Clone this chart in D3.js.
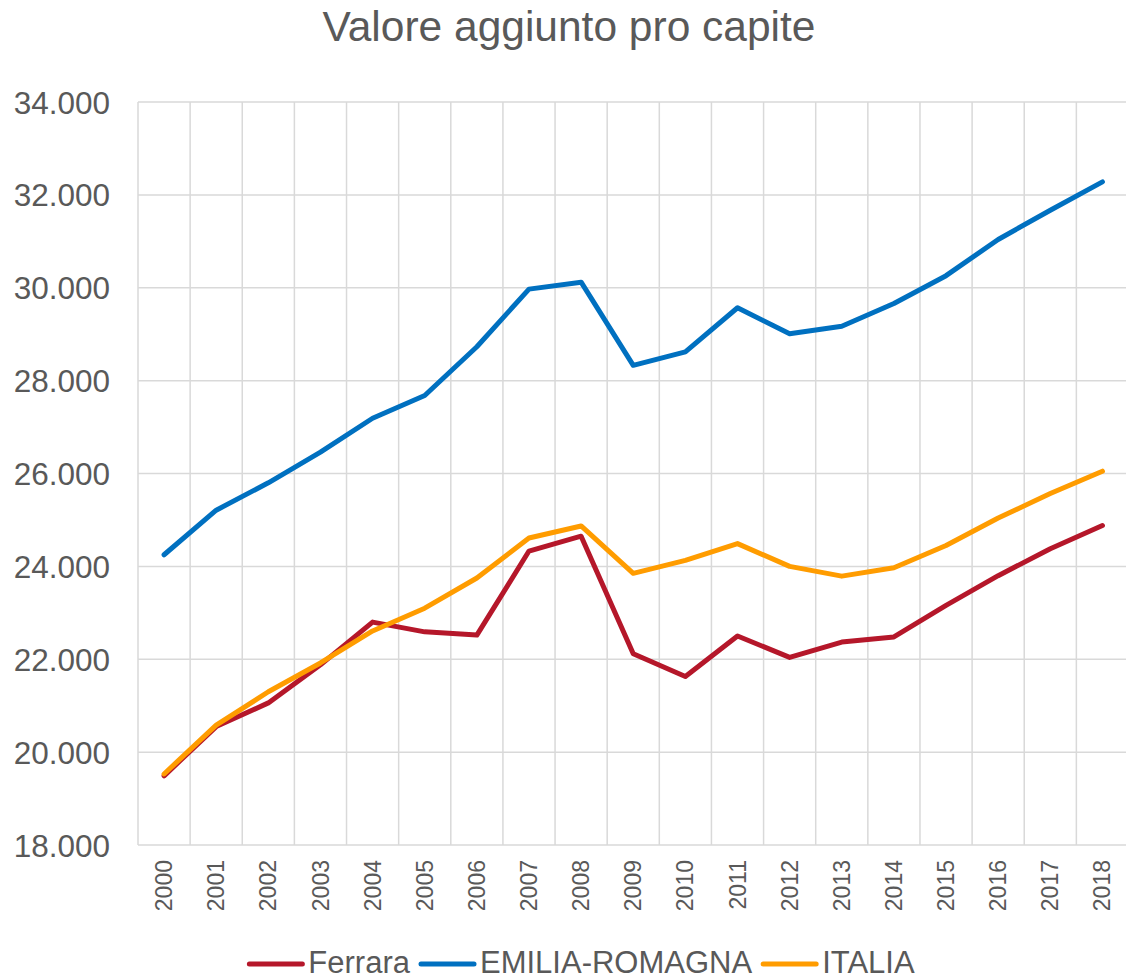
<!DOCTYPE html>
<html>
<head>
<meta charset="utf-8">
<script src="https://cdn.jsdelivr.net/npm/d3@7"></script>
<style>
  html, body { margin: 0; padding: 0; background: #fff; }
  svg { display: block; font-family: "Liberation Sans", Arial, sans-serif; }
</style>
</head>
<body>
<svg id="chart" width="1126" height="980"></svg>
<script>
var years = ["2000","2001","2002","2003","2004","2005","2006","2007","2008","2009",
             "2010","2011","2012","2013","2014","2015","2016","2017","2018"];
var ferrara = [19490, 20550, 21060, 21880, 22800, 22590, 22520, 24330, 24650, 22120,
               21630, 22500, 22040, 22370, 22480, 23160, 23800, 24380, 24880];
var emiliaRomagna = [24250, 25210, 25800, 26460, 27190, 27680, 28730, 29970, 30120, 28330,
                     28620, 29570, 29010, 29170, 29660, 30260, 31040, 31670, 32280];
var italia = [19530, 20580, 21300, 21920, 22610, 23100, 23750, 24610, 24870, 23850,
              24130, 24490, 24000, 23790, 23970, 24450, 25040, 25570, 26050];
var yTicks = [18000, 20000, 22000, 24000, 26000, 28000, 30000, 32000, 34000];

var series = [
  {name: "Ferrara", values: ferrara, color: "#B5172A"},
  {name: "EMILIA-ROMAGNA", values: emiliaRomagna, color: "#0070C0"},
  {name: "ITALIA", values: italia, color: "#FF9C00"}
];

var svg = d3.select("#chart");
var textColor = "#595959";
var gridColor = "#D9D9D9";

var x = d3.scaleBand().domain(years).range([138, 1128.5]);
var y = d3.scaleLinear().domain([18000, 34000]).range([845, 102]);

// title
svg.append("text")
  .attr("x", 569).attr("y", 41)
  .attr("text-anchor", "middle")
  .style("font-size", "42.5px")
  .style("fill", textColor)
  .text("Valore aggiunto pro capite");

// horizontal gridlines
svg.append("g").selectAll("line").data(yTicks).join("line")
  .attr("x1", 138).attr("x2", 1128.5)
  .attr("y1", function(d) { return y(d); }).attr("y2", function(d) { return y(d); })
  .attr("stroke", gridColor).attr("stroke-width", 1.5);

// vertical gridlines at category boundaries
var bounds = years.map(function(d) { return x(d); });
svg.append("g").selectAll("line").data(bounds).join("line")
  .attr("x1", function(d) { return d; }).attr("x2", function(d) { return d; })
  .attr("y1", 102).attr("y2", 845)
  .attr("stroke", gridColor).attr("stroke-width", 1.5);

// y axis labels
var yAxis = d3.axisLeft(y).tickValues(yTicks).tickSize(0).tickPadding(0)
  .tickFormat(function(d) { return d3.format(",")(d).replace(/,/g, "."); });
var yg = svg.append("g").attr("transform", "translate(110,0)").call(yAxis);
yg.select(".domain").remove();
yg.selectAll("text")
  .attr("x", 0).attr("dy", "0.35em")
  .style("font-size", "31.5px")
  .style("font-family", "'Liberation Sans', Arial, sans-serif")
  .style("fill", textColor);

// x axis labels
var xAxis = d3.axisBottom(x).tickSize(0);
var xg = svg.append("g").attr("transform", "translate(0,845)").call(xAxis);
xg.select(".domain").remove();
xg.selectAll("text")
  .attr("transform", "rotate(-90)")
  .attr("x", -15).attr("y", 0).attr("dy", "0.35em")
  .attr("text-anchor", "end")
  .style("font-size", "23px")
  .style("font-family", "'Liberation Sans', Arial, sans-serif")
  .style("fill", textColor);

// lines
var line = d3.line()
  .x(function(d, i) { return x(years[i]) + x.bandwidth() / 2; })
  .y(function(d) { return y(d); });

svg.append("g").selectAll("path").data(series).join("path")
  .attr("d", function(s) { return line(s.values); })
  .attr("fill", "none")
  .attr("stroke", function(s) { return s.color; })
  .attr("stroke-width", 5)
  .attr("stroke-linejoin", "round")
  .attr("stroke-linecap", "round");

// legend
var legend = svg.append("g");
var lx = 0;
series.forEach(function(s) {
  var item = legend.append("g").attr("transform", "translate(" + lx + ",0)");
  item.append("line")
    .attr("x1", 2).attr("x2", 55).attr("y1", 964).attr("y2", 964)
    .attr("stroke", s.color).attr("stroke-width", 5).attr("stroke-linecap", "round");
  var t = item.append("text")
    .attr("x", 61).attr("y", 973)
    .style("font-size", "31px")
    .style("fill", textColor)
    .text(s.name);
  lx += 61 + t.node().getComputedTextLength() + 9;
});
legend.attr("transform", "translate(" + (581 - (lx - 9) / 2) + ",0)");
</script>
</body>
</html>
